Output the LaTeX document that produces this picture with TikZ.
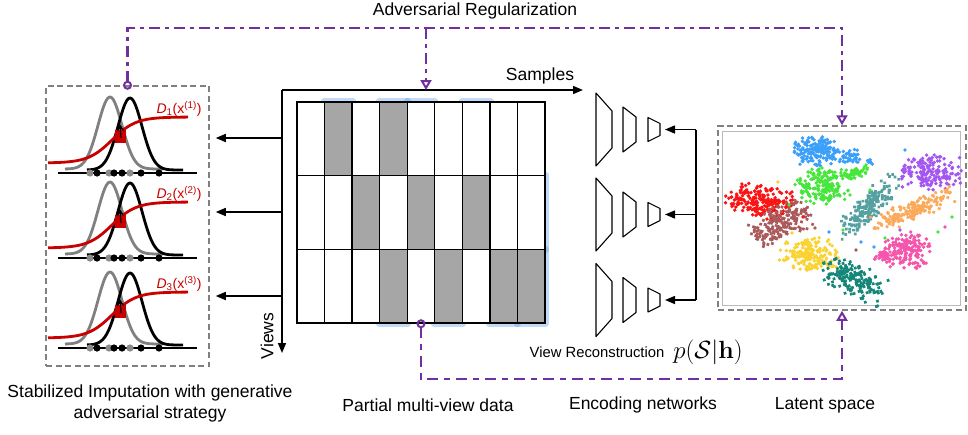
\documentclass[tikz,border=0pt]{standalone}
\usepackage[no-math]{fontspec}
\setmainfont{Liberation Sans}
\usetikzlibrary{arrows.meta,positioning,calc,backgrounds}
\definecolor{advpur}{RGB}{112,48,160}
\definecolor{dred}{RGB}{200,0,0}
\definecolor{cellgray}{RGB}{166,166,166}
\definecolor{glowblue}{RGB}{80,150,225}
\definecolor{boxgray}{RGB}{128,128,128}
\definecolor{dotgray}{RGB}{140,140,140}
\definecolor{cblue}{RGB}{60,160,250}
\definecolor{cgreen}{RGB}{70,230,60}
\definecolor{cpurple}{RGB}{165,85,240}
\definecolor{cred}{RGB}{250,20,20}
\definecolor{cbrown}{RGB}{170,90,90}
\definecolor{cteal}{RGB}{85,160,160}
\definecolor{corange}{RGB}{250,170,90}
\definecolor{cyellow}{RGB}{250,210,50}
\definecolor{cpink}{RGB}{245,85,170}
\definecolor{cdteal}{RGB}{20,135,120}
\newcommand{\fs}[1]{\fontsize{#1}{#1}\selectfont}
% one discriminator plot, #1 = vertical offset, #2 = view index
\newcommand{\ganplot}[2]{%
  \begin{scope}[shift={(0,#1)}]
    \draw[gcrv] plot[domain=65:163, samples=70] (\x, {169-72*exp(-0.5*((\x-110)/12)*((\x-110)/12))});
    \draw[kcrv] plot[domain=87:183, samples=70] (\x, {170-72*exp(-0.5*((\x-130)/12)*((\x-130)/12))});
    \draw[rcrv] plot[domain=48:188, samples=70] (\x, {163-46/(1+exp(-(\x-112)/12))});
    \fill[dred] (115,130) rectangle (126,143);
    \draw[-{Stealth[length=7pt,width=7pt]}, line width=1.2pt] (121,138) -- (120,124);
    \draw[line width=1.4pt] (58,173) -- (197,173);
    \foreach \px/\pc in {90/dotgray,97/black,109/dotgray,114/black,122/black,130/dotgray,141/black,159/black}
      \fill[\pc] (\px,173) circle (3.6pt);
    \node[dlab] (d#2) at (179,109) {\textit{D}\textsubscript{#2}(x\textsuperscript{(#2)})};
  \end{scope}}
% one encoder, #1 = name of its input point, #2 = centre y
\newcommand{\encoder}[2]{%
  \draw[enc] (596,{#2-36.5}) -- (612,{#2-18.5}) -- (612,{#2+18.5}) -- (596,{#2+36.5}) -- cycle;
  \draw[enc] (623,{#2-22.5}) -- (636,{#2-12.5}) -- (636,{#2+12.5}) -- (623,{#2+22.5}) -- cycle;
  \draw[enc] (648,{#2-12}) -- (660,{#2-6}) -- (660,{#2+6}) -- (648,{#2+12}) -- cycle;
  \coordinate (#1) at (660,#2);}
% one cluster of the embedding, #1 colour, #2/#3 centre, #4/#5 spread, #6 angle, #7 points
\newcommand{\blob}[7]{%
  \begin{scope}[shift={(#2,#3)}, rotate=#6]
    \foreach \k in {1,...,#7}
      \fill[#1] ({#4*0.72*(rand+rand)},{#5*0.72*(rand+rand)}) circle (1.9pt);
  \end{scope}}
\tikzset{
  gcrv/.style={gray, line width=2.8pt},
  kcrv/.style={black, line width=2.8pt},
  rcrv/.style={dred, line width=2.8pt},
  dlab/.style={font=\fs{14}, text=dred},
  lab/.style={font=\fs{17.5}},
  dbox/.style={draw=boxgray, line width=1.5pt, dash pattern=on 6pt off 3.5pt},
  cell/.style={draw, line width=1.3pt, fill=white, minimum width=27.55pt, minimum height=73.7pt, inner sep=0pt},
  glow/.style={glowblue, line width=6pt, opacity=.35, line join=round},
  axarr/.style={-{Triangle[length=10pt,width=8pt]}, line width=1.5pt},
  larr/.style={-{Triangle[length=10pt,width=8pt]}, line width=1.5pt, shorten >=6pt},
  earr/.style={-{Triangle[length=10pt,width=8pt]}, line width=1.5pt, shorten >=5pt},
  enc/.style={draw, line width=1.1pt, line join=round},
  adv/.style={advpur, line width=2.6pt, dash pattern=on 11pt off 5pt on 4pt off 5pt},
  rec/.style={advpur, line width=2.6pt, dash pattern=on 11pt off 6pt on 6pt off 6pt},
  otip/.style={{Circle[open,length=9pt,line width=2pt]}-{Triangle[open,length=10pt,width=11pt,line width=2pt]}, shorten <=-4.5pt},
}
\begin{document}
\begin{tikzpicture}[x=1pt, y=-1pt]
\useasboundingbox (0,0) rectangle (968,434);
%---- imputation panel
\node[dbox, minimum width=163pt, minimum height=280pt] (imp) at (127.5,226) {};
\ganplot{0}{1}
\ganplot{85}{2}
\ganplot{175}{3}
\node[lab, align=center, font=\fontsize{17.5}{21}\selectfont] (implab) at (150,403) {Stabilized Imputation with generative\\adversarial strategy};
%---- partial multi-view data
\foreach \r in {1,2,3}
  \foreach \c in {1,...,9}
    \node[cell] (m\r\c) at ({297+27.55*(\c-0.5)},{102+73.7*(\r-0.5)}) {};
\foreach \r/\c in {1/2,1/4,2/3,2/5,2/7,3/4,3/6,3/8,3/9}
  \node[cell, fill=cellgray] (g\r\c) at (m\r\c) {};
\begin{scope}[on background layer]
  \foreach \r/\c in {1/2,1/4,1/5,1/7,2/3,2/5,2/6,2/7,2/9,3/4,3/6,3/8,3/9}
    \draw[glow] (m\r\c.north west) rectangle (m\r\c.south east);
\end{scope}
\coordinate (org) at (282,90);
\coordinate (sampend) at (583,90);
\coordinate (viewend) at (282,353);
\draw[axarr] (org) -- (sampend);
\draw[axarr] (org) -- (viewend);
\node[lab] (samp) at (540,76) {Samples};
\node[lab, rotate=90] (views) at (267,336) {Views};
\foreach \i/\yy in {1/138,2/212,3/296}{
  \coordinate (va\i) at (282,\yy);
  \draw[larr] (va\i) -- (va\i -| imp.east);
}
\node[lab] (mvlab) at (428,405) {Partial multi-view data};
%---- encoding networks
\encoder{en1}{129.5}
\encoder{en2}{214.5}
\encoder{en3}{300}
\coordinate (fb1) at (696,129.5);
\coordinate (fb2) at (696,214.5);
\coordinate (fb3) at (696,300);
\draw[line width=1.5pt] (fb1) -- (fb3);
\foreach \i in {1,2,3}
  \draw[earr] (fb\i) -- (en\i);
\node[lab] (enclab) at (643,405) {Encoding networks};
%---- latent space
\node[dbox, minimum width=248pt, minimum height=184pt] (latent) at (842,218) {};
\node[draw=gray!55, line width=.9pt, minimum width=238pt, minimum height=174pt] (frame) at (841,218) {};
\pgfmathsetseed{11}
\blob{cblue}{818}{151}{20}{11}{0}{190}
\blob{cblue}{851}{156}{7}{5}{0}{35}
\blob{cblue}{870}{162}{3}{2}{0}{8}
\blob{cgreen}{823}{186}{20}{14}{0}{190}
\blob{cgreen}{855}{173}{11}{4}{15}{45}
\blob{cpurple}{930}{172}{24}{13}{0}{180}
\blob{cred}{761}{201}{26}{13}{-8}{220}
\blob{cbrown}{779}{223}{26}{13}{25}{200}
\blob{cteal}{867}{208}{31}{9}{45}{200}
\blob{corange}{912}{210}{33}{8}{22}{180}
\blob{cyellow}{810}{255}{23}{14}{0}{180}
\blob{cpink}{906}{250}{20}{14}{0}{180}
\blob{cpink}{882}{256}{8}{3}{0}{18}
\blob{cdteal}{852}{279}{26}{13}{-25}{190}
\foreach \px/\py/\pc in {778/182/cyellow,803/217/cred,815/228/cbrown,829/232/cblue,792/233/cyellow,
    843/230/cgreen,861/242/cblue,856/250/cbrown,874/247/cblue,885/238/cgreen,900/230/cpurple,
    938/232/cgreen,945/227/cpink,952/217/cgreen,789/205/cgreen,870/190/cgreen,905/150/cblue,
    822/168/cgreen,850/195/cgreen}
  \fill[\pc] (\px,\py) circle (1.9pt);
\node[lab] (latlab) at (825,405) {Latent space};
%---- adversarial regularization
\coordinate (advc) at (842,28);
\coordinate (advm) at (426,28);
\coordinate (advt) at (426,90);
\draw[adv, otip] (imp.north) |- (advc) -- (latent.north);
\draw[adv, -{Triangle[open,length=10pt,width=11pt,line width=2pt]}] (advm) -- (advt);
\node[lab] (advlab) at (475,11) {Adversarial Regularization};
%---- view reconstruction
\coordinate (recc) at (842,379);
\draw[rec, otip] (m35.south) |- (recc) -- (latent.south);
\node[font=\fs{26}] (pdist) at (708,352) {$p(\mathcal{S}|\mathbf{h})$};
\node[font=\fs{14.8}, left=2pt of pdist] (vrec) {View Reconstruction};
\end{tikzpicture}
\end{document}
